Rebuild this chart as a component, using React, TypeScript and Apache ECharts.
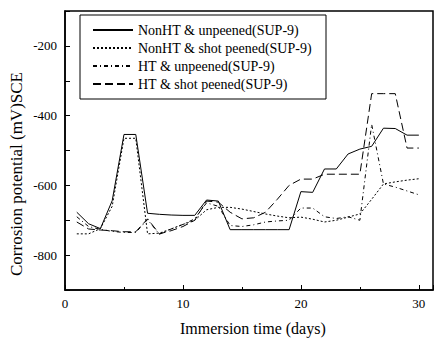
import { useEffect, useRef } from 'react';
import * as echarts from 'echarts';

const days = [1, 2, 3, 4, 5, 6, 7, 8, 9, 10, 11, 12, 13, 14, 15, 16, 17, 18, 19, 20, 21, 22, 23, 24, 25, 26, 27, 28, 29, 30];
const nonHTUnpeened = [-677, -710, -724, -644, -454, -454, -680, -683, -685, -686, -686, -642, -645, -727, -727, -727, -727, -727, -727, -618, -620, -553, -553, -510, -496, -488, -436, -437, -456, -456];
const nonHTShotPeened = [-739, -739, -724, -660, -465, -465, -739, -737, -725, -712, -700, -670, -663, -663, -668, -675, -682, -688, -693, -691, -697, -705, -700, -691, -682, -640, -596, -590, -585, -581];
const htUnpeened = [-690, -718, -726, -732, -735, -735, -698, -740, -725, -712, -696, -650, -660, -715, -718, -713, -705, -702, -700, -665, -665, -690, -695, -690, -700, -425, -596, -605, -616, -627];
const htShotPeened = [-705, -725, -728, -730, -733, -733, -696, -739, -730, -718, -700, -645, -648, -677, -696, -693, -677, -640, -600, -582, -582, -568, -568, -568, -568, -337, -337, -337, -493, -493];
const seriesNames = ['NonHT & unpeened(SUP-9)', 'NonHT & shot peened(SUP-9)', 'HT & unpeened(SUP-9)', 'HT & shot peened(SUP-9)'];
const yLabelValues = [-800, -600, -400, -200];
const xLabelValues = [0, 10, 20, 30];

const FONT = '"Liberation Serif", "Times New Roman", serif';

export default function App() {
  const ref = useRef<HTMLDivElement>(null);
  useEffect(() => {
    document.body.style.margin = '0';
    const chart = echarts.init(ref.current!, null, { renderer: 'svg' });
    const allValues = [nonHTUnpeened, nonHTShotPeened, htUnpeened, htShotPeened];
    const dashes: any[] = ['solid', [2, 2], [4, 3, 1, 3], [8, 4]];
    chart.setOption({
      animation: false,
      backgroundColor: '#fff',
      grid: { left: 65, top: 11, right: 5, bottom: 48, show: true, borderColor: '#000', borderWidth: 1.5, backgroundColor: 'transparent' },
      xAxis: {
        type: 'value', min: 0, max: 31.2, interval: 10,
        axisLine: { lineStyle: { color: '#000', width: 1.5 } },
        axisTick: { inside: true, length: 5, lineStyle: { color: '#000' } },
        minorTick: { show: true, splitNumber: 2, length: 3, lineStyle: { color: '#000' } },
        splitLine: { show: false },
        axisLabel: {
          color: '#000', fontFamily: FONT, fontSize: 13, margin: 7,
          formatter: (v: number) => (xLabelValues.includes(v) ? String(v) : ''),
        },
      },
      yAxis: {
        type: 'value', min: -900, max: -100, interval: 100,
        axisLine: { lineStyle: { color: '#000', width: 1.5 } },
        axisTick: { inside: true, length: 5, lineStyle: { color: '#000' } },
        splitLine: { show: false },
        axisLabel: {
          color: '#000', fontFamily: FONT, fontSize: 13, margin: 8,
          formatter: (v: number) => (yLabelValues.includes(v) ? String(v) : ''),
        },
      },
      legend: {
        orient: 'vertical', left: 92, top: 23, padding: 0, itemGap: 4,
        itemWidth: 40, itemHeight: 14, z: 10,
        itemStyle: { opacity: 0 },
        textStyle: { color: '#000', fontFamily: FONT, fontSize: 14 },
        data: seriesNames,
      },
      graphic: [
        { type: 'rect', z: 5, shape: { x: 80, y: 15, width: 246, height: 84 }, style: { fill: '#fff', stroke: '#000', lineWidth: 1 } },
        { type: 'text', left: 180, top: 320, style: { text: 'Immersion time (days)', font: `16px ${FONT}`, fill: '#000' } },
        { type: 'text', x: 8, y: 276, rotation: Math.PI / 2, style: { text: 'Corrosion potential (mV)SCE', font: `17px ${FONT}`, fill: '#000' } },
      ],
      series: seriesNames.map((name, i) => ({
        name,
        type: 'line',
        symbol: 'none',
        data: days.map((d, j) => [d, allValues[i][j]]),
        lineStyle: { color: '#000', width: 1, type: dashes[i] },
        itemStyle: { color: '#000' },
      })),
    });
    return () => chart.dispose();
  }, []);
  return <div ref={ref} style={{ width: 438, height: 338 }} />;
}
